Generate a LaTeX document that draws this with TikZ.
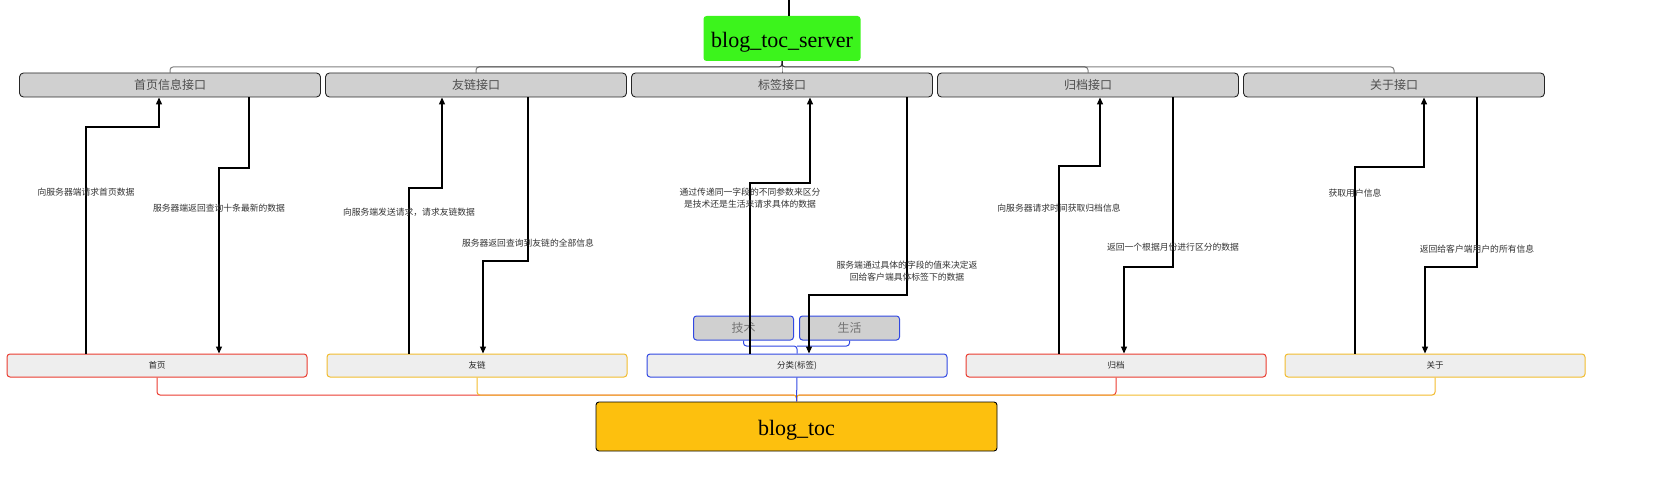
\documentclass[tikz,border=0pt]{standalone}
\usepackage{fontspec}
\usepackage{tikz}
\usetikzlibrary{arrows.meta}
\usetikzlibrary{positioning}
\setmainfont{Liberation Serif}
\newfontfamily\cjk{Noto Sans CJK SC}
\definecolor{srvgreen}{HTML}{3CF41C}
\definecolor{tocamber}{HTML}{FDC00E}
\definecolor{ifgray}{HTML}{D0D0D0}
\definecolor{modgray}{HTML}{EEEEEE}
\definecolor{modred}{HTML}{EA3B2F}
\definecolor{modyellow}{HTML}{F2BC2E}
\definecolor{modblue}{HTML}{3148E2}
\definecolor{txtgray}{HTML}{4D4D4D}
\tikzset{
  ifbox/.style={draw=black!85, line width=0.9pt, fill=ifgray, rounded corners=4pt, minimum width=301pt,
    minimum height=24pt, inner sep=0pt, font=\cjk\fontsize{12}{14}\selectfont, text=txtgray},
  modbox/.style={fill=modgray, rounded corners=3pt, line width=1pt, minimum width=300pt,
    minimum height=23pt, inner sep=0pt, font=\cjk\fontsize{8.5}{10}\selectfont, text=black!85},
  tagbox/.style={draw=modblue, fill=ifgray, line width=1pt, rounded corners=3pt, minimum width=100pt,
    minimum height=24pt, inner sep=0pt, font=\cjk\fontsize{12}{14}\selectfont, text=black!55},
  titlebox/.style={rounded corners=3pt, inner sep=0pt, text height=20pt, text depth=2pt,
    font=\fontsize{22}{26}\selectfont},
  flow/.style={line width=1.2pt, -{Triangle[width=6pt,length=7pt]}},
  flowtext/.style={font=\cjk\fontsize{8.8}{12}\selectfont, text=black!80, align=center, inner sep=0pt},
  srvlink/.style={draw=black, draw opacity=0.5, line width=1pt, rounded corners=3pt},
  toclink/.style={line width=1pt, rounded corners=3pt}
}
\begin{document}
\begin{tikzpicture}[x=1pt, y=-1pt]
  \useasboundingbox (0,0) rectangle (1665,481);

  \node[titlebox, fill=srvgreen, minimum width=157pt, minimum height=45pt] (srv) at (782,38.5) {blog\_toc\_server};
  \coordinate (srvIn) at (789,0);
  \draw[line width=1.2pt] (srvIn |- srv.north) -- (srvIn);

  \node[ifbox] (ifHome) at (170,85) {首页信息接口};
  \node[ifbox] (ifLink) at (476,85) {友链接口};
  \node[ifbox] (ifTag) at (782,85) {标签接口};
  \node[ifbox] (ifArch) at (1088,85) {归档接口};
  \node[ifbox] (ifAbout) at (1394,85) {关于接口};

  \coordinate (srvBus) at (srv.south |- 0,67);
  \draw[srvlink] (srv.south) -- (srvBus) -| (ifHome.north);
  \draw[srvlink] (srv.south) -- (srvBus) -| (ifLink.north);
  \draw[srvlink] (srv.south) -- (srvBus) -| (ifTag.north);
  \draw[srvlink] (srv.south) -- (srvBus) -| (ifArch.north);
  \draw[srvlink] (srv.south) -- (srvBus) -| (ifAbout.north);

  \node[modbox, draw=modred] (mHome) at (157,365.5) {首页};
  \node[modbox, draw=modyellow] (mLink) at (477,365.5) {友链};
  \node[modbox, draw=modblue] (mTag) at (797,365.5) {分类(标签)};
  \node[modbox, draw=modred] (mArch) at (1116,365.5) {归档};
  \node[modbox, draw=modyellow] (mAbout) at (1435,365.5) {关于};

  \node[tagbox] (tTech) at (743.5,328) {技术};
  \node[tagbox] (tLife) at (849.5,328) {生活};
  \coordinate (tagBus) at (mTag.north |- 0,346);
  \draw[toclink, draw=modblue] (mTag.north) -- (tagBus) -| (tTech.south);
  \draw[toclink, draw=modblue] (tagBus) -| (tLife.south);

  \node[titlebox, draw=black, line width=0.9pt, fill=tocamber, minimum width=401pt, minimum height=49pt] (toc) at (796.5,426.5) {blog\_toc};
  \coordinate (tocBus) at (toc.north |- 0,395);
  \draw[toclink, draw=modred] (mHome.south) |- (tocBus) -- (toc.north);
  \draw[toclink, draw=modyellow] (mLink.south) |- (tocBus) -- (toc.north);
  \draw[toclink, draw=modred] (mArch.south) |- (tocBus) -- (toc.north);
  \draw[toclink, draw=modyellow] (mAbout.south) |- (tocBus) -- (toc.north);
  \draw[toclink, draw=modblue] (mTag.south) -- (toc.north);

  \draw[flow] (mHome.north -| 86,0) |- (159,127) -- (ifHome.south -| 159,0);
  \draw[flow] (ifHome.south -| 249,0) |- (219,168) -- (mHome.north -| 219,0);
  \draw[flow] (mLink.north -| 409,0) |- (442,188) -- (ifLink.south -| 442,0);
  \draw[flow] (ifLink.south -| 528,0) |- (483,261) -- (mLink.north -| 483,0);
  \draw[flow] (mTag.north -| 750,0) |- (810,183) -- (ifTag.south -| 810,0);
  \draw[flow] (ifTag.south -| 907,0) |- (809,295) -- (mTag.north -| 809,0);
  \draw[flow] (mArch.north -| 1059,0) |- (1100,166) -- (ifArch.south -| 1100,0);
  \draw[flow] (ifArch.south -| 1173,0) |- (1124,267) -- (mArch.north -| 1124,0);
  \draw[flow] (mAbout.north -| 1355,0) |- (1424,167) -- (ifAbout.south -| 1424,0);
  \draw[flow] (ifAbout.south -| 1477,0) |- (1425,267) -- (mAbout.north -| 1425,0);

  \node[flowtext] (lHomeReq) at (86,192) {向服务器端请求首页数据};
  \node[flowtext] (lHomeRes) at (219,208) {服务器端返回查询十条最新的数据};
  \node[flowtext] (lLinkReq) at (409,212) {向服务端发送请求，请求友链数据};
  \node[flowtext] (lLinkRes) at (528,243) {服务器返回查询到友链的全部信息};
  \node[flowtext] (lTagReq) at (750,198) {通过传递同一字段的不同参数来区分\\是技术还是生活来请求具体的数据};
  \node[flowtext] (lTagRes) at (907,271.5) {服务端通过具体的字段的值来决定返\\回给客户端具体标签下的数据};
  \node[flowtext] (lArchReq) at (1059,208) {向服务器请求时间获取归档信息};
  \node[flowtext] (lArchRes) at (1173,247) {返回一个根据月份进行区分的数据};
  \node[flowtext] (lAboutReq) at (1355,193) {获取用户信息};
  \node[flowtext] (lAboutRes) at (1477,249) {返回给客户端用户的所有信息};
\end{tikzpicture}
\end{document}
